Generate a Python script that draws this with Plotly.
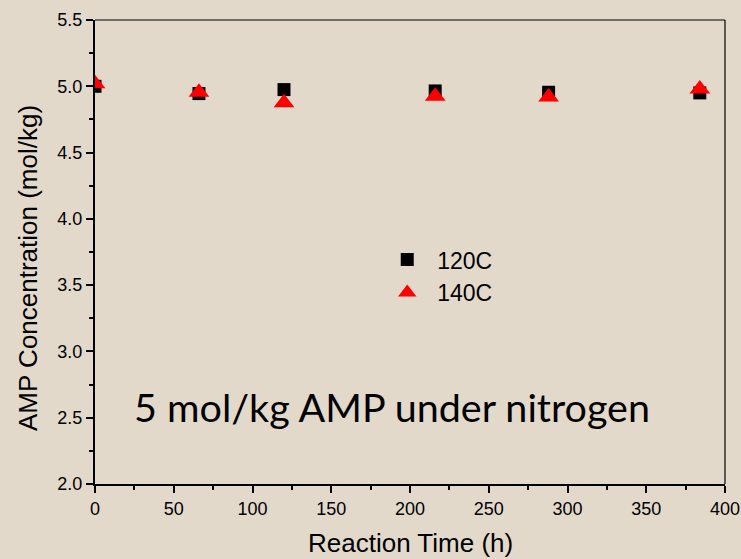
import plotly.graph_objects as go

time_h = [0, 66, 120, 216, 288, 384]
conc_120 = [5.00, 4.945, 4.975, 4.965, 4.955, 4.95]
conc_140 = [5.02, 4.955, 4.875, 4.925, 4.92, 4.98]

bg = "#E3D9CB"
font_fam = "Liberation Sans, Arial"

fig = go.Figure()
fig.add_trace(go.Scatter(x=time_h, y=conc_120, mode="markers", name="120C",
                         marker=dict(symbol="square", size=13, color="black")))
fig.add_trace(go.Scatter(x=time_h, y=conc_140, mode="markers", name="140C",
                         marker=dict(symbol="triangle-up", size=18, color="#FF0000")))

axis_common = dict(showline=True, linecolor="black", linewidth=2, mirror=False,
                   ticks="outside", ticklen=7, tickwidth=1.5, tickcolor="black",
                   showgrid=False, zeroline=False, automargin=False,
                   tickfont=dict(family=font_fam, size=18, color="black"))

fig.update_xaxes(range=[0, 400], tickmode="linear", tick0=0, dtick=50,
                 minor=dict(ticks="outside", ticklen=4, dtick=25, tickcolor="black", tickwidth=1.5),
                 **axis_common)
fig.update_yaxes(range=[2.0, 5.5], tickmode="linear", tick0=2.0, dtick=0.5, tickformat=".1f",
                 minor=dict(ticks="outside", ticklen=4, dtick=0.25, tickcolor="black", tickwidth=1.5),
                 **axis_common)

# axis titles
fig.add_annotation(text="Reaction Time (h)", xref="paper", yref="paper",
                   x=0.5, y=-0.128, xanchor="center", yanchor="middle",
                   showarrow=False, font=dict(family=font_fam, size=26, color="black"))
fig.add_annotation(text="AMP Concentration (mol/kg)", xref="paper", yref="paper",
                   x=-0.106, y=0.466, xanchor="center", yanchor="middle", textangle=-90,
                   showarrow=False, font=dict(family=font_fam, size=26, color="black"))

# thin top and right frame lines
fig.add_shape(type="line", xref="paper", yref="paper", x0=0, x1=1, y0=1, y1=1,
              line=dict(color="black", width=1.2))
fig.add_shape(type="line", xref="paper", yref="paper", x0=1, x1=1, y0=0, y1=1,
              line=dict(color="black", width=1.2))

fig.add_annotation(text="5 mol/kg AMP under nitrogen", xref="paper", yref="paper",
                   x=0.472, y=0.112, showarrow=False,
                   font=dict(family="Lato, Open Sans, sans-serif", size=39.5, color="black"))

fig.update_layout(
    width=741, height=559,
    margin=dict(l=95, r=16, t=20, b=75),
    paper_bgcolor=bg, plot_bgcolor=bg,
    showlegend=True,
    legend=dict(x=0.448, y=0.53, xanchor="left", yanchor="top", bgcolor="rgba(0,0,0,0)",
                font=dict(family=font_fam, size=23, color="black"),
                itemsizing="trace", tracegroupgap=0, itemwidth=50),
)

fig.write_html("out.html")
